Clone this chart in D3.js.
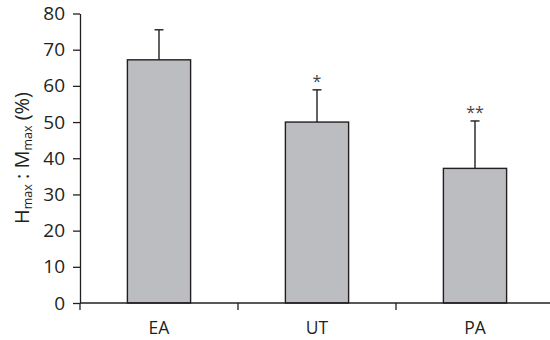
<!DOCTYPE html>
<html>
<head>
<meta charset="utf-8">
<script src="https://cdn.jsdelivr.net/npm/d3@7"></script>
<style>
  html, body { margin: 0; padding: 0; background: #fff; }
  svg { display: block; font-family: "Open Sans", "Noto Sans", sans-serif; }
</style>
</head>
<body>
<svg id="chart" width="550" height="340"></svg>
<script>
// Groups, means, SD and significance markers
const categories = ["EA", "UT", "PA"];
const means = [67.2, 50.0, 37.2];
const errors = [8.3, 8.9, 13.1];
const markers = ["", "*", "**"];
const yTicks = [0, 10, 20, 30, 40, 50, 60, 70, 80];

const svg = d3.select("#chart");
const plotLeft = 80, plotRight = 554, plotTop = 13.5, plotBottom = 303;

const x = d3.scaleBand().domain(categories).range([plotLeft, plotRight]).padding(0);
const y = d3.scaleLinear().domain([0, 80]).range([plotBottom, plotTop]);
const barW = x.bandwidth() * 0.4;
const ink = "#231f20";

// Bars
svg.append("g").selectAll("rect").data(categories).join("rect")
  .attr("x", d => x(d) + (x.bandwidth() - barW) / 2)
  .attr("y", (d, i) => y(means[i]))
  .attr("width", barW)
  .attr("height", (d, i) => y(0) - y(means[i]))
  .attr("fill", "#bcbdc0")
  .attr("stroke", ink)
  .attr("stroke-width", 1.4);

// Upper error bars
const eb = svg.append("g").attr("stroke", ink).attr("stroke-width", 1.4);
categories.forEach((c, i) => {
  const cx = x(c) + x.bandwidth() / 2;
  eb.append("line").attr("x1", cx).attr("x2", cx)
    .attr("y1", y(means[i])).attr("y2", y(means[i] + errors[i]));
  eb.append("line").attr("x1", cx - 4.5).attr("x2", cx + 4.5)
    .attr("y1", y(means[i] + errors[i])).attr("y2", y(means[i] + errors[i]));
});

// Significance markers
svg.append("g").selectAll("text").data(categories).join("text")
  .attr("x", d => x(d) + x.bandwidth() / 2)
  .attr("y", (d, i) => y(means[i] + errors[i]) - 3)
  .attr("text-anchor", "middle")
  .style("font-size", "16px")
  .attr("fill", "#444")
  .text((d, i) => markers[i]);

// Y axis
const yAxis = svg.append("g").attr("transform", `translate(${plotLeft},0)`)
  .call(d3.axisLeft(y).tickValues(yTicks).tickSize(7).tickPadding(8).tickSizeOuter(0));
yAxis.attr("font-family", null).attr("font-size", null);
yAxis.select(".domain").attr("stroke", ink).attr("stroke-width", 1.3);
yAxis.selectAll(".tick line").attr("stroke", ink).attr("stroke-width", 1.3);
yAxis.selectAll(".tick text").style("font-size", "19px").style("font-weight", 500).attr("fill", ink);

// X axis with ticks at band boundaries
const xAxis = svg.append("g").attr("transform", `translate(0,${plotBottom})`);
xAxis.append("line").attr("x1", plotLeft).attr("x2", 550)
  .attr("stroke", ink).attr("stroke-width", 1.3);
xAxis.selectAll("line.tk").data(categories.concat([null])).join("line")
  .attr("class", "tk")
  .attr("x1", (d, i) => plotLeft + i * x.bandwidth())
  .attr("x2", (d, i) => plotLeft + i * x.bandwidth())
  .attr("y1", 0).attr("y2", 7)
  .attr("stroke", ink).attr("stroke-width", 1.3);
xAxis.selectAll("text").data(categories).join("text")
  .attr("x", d => x(d) + x.bandwidth() / 2)
  .attr("y", 31)
  .attr("text-anchor", "middle")
  .style("font-size", "17.5px")
  .attr("fill", ink)
  .text(d => d);

// Y axis title
const title = svg.append("text")
  .attr("transform", "translate(29,158) rotate(-90)")
  .attr("text-anchor", "middle")
  .style("font-size", "20px")
  .attr("fill", ink);
title.append("tspan").text("H");
title.append("tspan").style("font-size", "12.5px").attr("dy", 3).text("max");
title.append("tspan").attr("dy", -3).text(" : M");
title.append("tspan").style("font-size", "12.5px").attr("dy", 3).text("max");
title.append("tspan").attr("dy", -3).text(" (%)");
</script>
</body>
</html>
